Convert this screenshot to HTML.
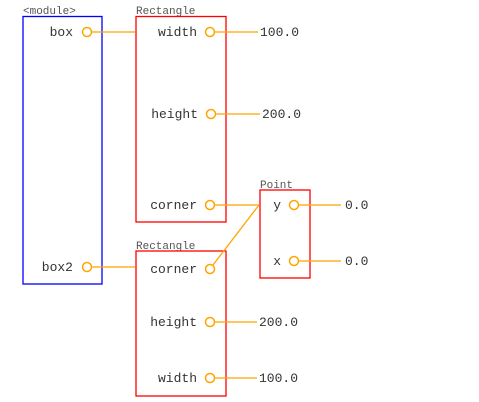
<!DOCTYPE html>
<html><head><style>body{margin:0;background:#fff}svg{display:block}text{font-family:"Liberation Mono","Courier New",monospace}</style></head><body>
<svg width="479" height="402" xmlns="http://www.w3.org/2000/svg">
<g fill="#555" font-size="11">
<text x="23" y="14">&lt;module&gt;</text>
<text x="136" y="14">Rectangle</text>
<text x="136" y="249">Rectangle</text>
<text x="260" y="188">Point</text>
</g>
<rect x="23" y="16.5" width="79" height="267.5" fill="none" stroke="#00f" stroke-width="1.3"/>
<rect x="136" y="16.5" width="90" height="205.5" fill="none" stroke="#f00" stroke-width="1.3"/>
<rect x="136" y="251" width="90" height="145" fill="none" stroke="#f00" stroke-width="1.3"/>
<rect x="260" y="190" width="50" height="88" fill="none" stroke="#f00" stroke-width="1.3"/>
<g stroke="orange" stroke-width="1.3" fill="none">
<line x1="92" y1="32" x2="135" y2="32"/>
<line x1="92" y1="267" x2="135" y2="267"/>
<line x1="215" y1="32" x2="258" y2="32"/>
<line x1="216" y1="114" x2="260" y2="114"/>
<line x1="215" y1="205" x2="259" y2="205"/>
<line x1="213" y1="265" x2="259" y2="205"/>
<line x1="215" y1="322" x2="257" y2="322"/>
<line x1="215" y1="378" x2="257" y2="378"/>
<line x1="299" y1="205" x2="341" y2="205"/>
<line x1="299" y1="261" x2="341" y2="261"/>
<g fill="#fff" stroke-width="1.5">
<circle cx="87" cy="32" r="4.5"/><circle cx="87" cy="267" r="4.5"/>
<circle cx="210" cy="32" r="4.5"/><circle cx="211" cy="114" r="4.5"/>
<circle cx="210" cy="205" r="4.5"/><circle cx="210" cy="269" r="4.5"/>
<circle cx="210" cy="322" r="4.5"/><circle cx="210" cy="378" r="4.5"/>
<circle cx="294" cy="205" r="4.5"/><circle cx="294" cy="261" r="4.5"/>
</g></g>
<g fill="#333" font-size="13" text-anchor="end">
<text x="73" y="36">box</text><text x="73" y="271">box2</text>
<text x="197" y="36">width</text><text x="198" y="118">height</text>
<text x="197" y="209">corner</text><text x="197" y="273">corner</text>
<text x="197" y="326">height</text><text x="197" y="382">width</text>
<text x="281" y="209">y</text><text x="281" y="265">x</text>
</g>
<g fill="#333" font-size="13">
<text x="260" y="36">100.0</text><text x="262" y="118">200.0</text>
<text x="345" y="209">0.0</text><text x="345" y="265">0.0</text>
<text x="259" y="326">200.0</text><text x="259" y="382">100.0</text>
</g>
</svg>
</body></html>
